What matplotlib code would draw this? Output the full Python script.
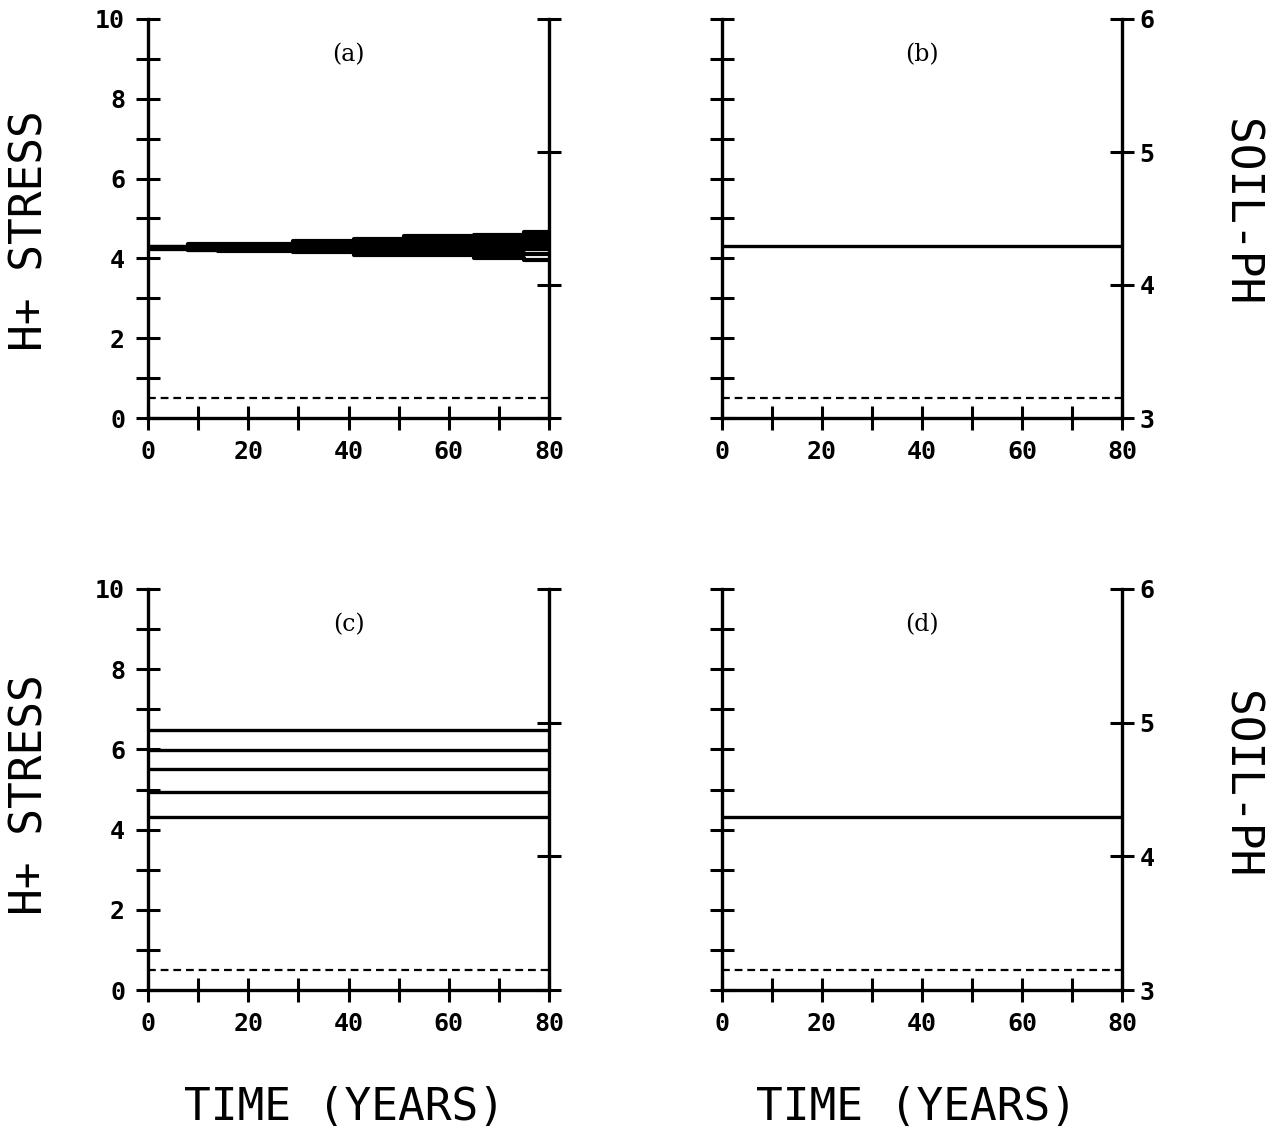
import matplotlib
matplotlib.use("Agg")
import matplotlib.pyplot as plt

# ---- data -------------------------------------------------------------
# time axis (years) and panel (a) breakpoints where the trajectories step
years = [0, 80]
years_a = [0, 8, 14, 29, 41, 51, 65, 75, 80]

# panel (a): bundle of H+ stress trajectories widening with time
stress_a1 = [4.29, 4.35, 4.37, 4.44, 4.48, 4.56, 4.58, 4.65, 4.65]
stress_a2 = [4.28, 4.33, 4.34, 4.40, 4.43, 4.50, 4.51, 4.57, 4.57]
stress_a3 = [4.28, 4.31, 4.32, 4.36, 4.38, 4.44, 4.44, 4.49, 4.49]
stress_a4 = [4.27, 4.29, 4.30, 4.32, 4.33, 4.38, 4.37, 4.42, 4.42]
stress_a5 = [4.26, 4.27, 4.27, 4.28, 4.27, 4.31, 4.29, 4.32, 4.32]
stress_a6 = [4.25, 4.25, 4.24, 4.24, 4.21, 4.23, 4.21, 4.23, 4.23]
stress_a7 = [4.24, 4.22, 4.22, 4.20, 4.15, 4.16, 4.12, 4.10, 4.10]
stress_a8 = [4.23, 4.20, 4.19, 4.16, 4.09, 4.09, 4.01, 3.95, 3.95]
stress_a = [stress_a1, stress_a2, stress_a3, stress_a4,
            stress_a5, stress_a6, stress_a7, stress_a8]

# panel (b) and (d): single constant trajectory
stress_b = [4.31, 4.31]
stress_d = [4.31, 4.31]

# panel (c): constant stress levels
stress_c_levels = [6.48, 5.99, 5.51, 4.95, 4.32]

# threshold (dashed) in every panel
threshold = [0.5, 0.5]

# axis ranges and ticks
stress_ticks = list(range(0, 11))
stress_labels = ["0", "", "2", "", "4", "", "6", "", "8", "", "10"]
time_ticks = list(range(0, 81, 10))
time_labels = ["0", "", "20", "", "40", "", "60", "", "80"]
ph_ticks = [3, 4, 5, 6]
ph_labels = ["3", "4", "5", "6"]
panel_tags = ["(a)", "(b)", "(c)", "(d)"]

# ---- figure -----------------------------------------------------------
W, H = 1276, 1132
fig = plt.figure(figsize=(W / 100, H / 100), dpi=100)


def box(x0, x1, ytop, ybot):
    return [x0 / W, 1 - ybot / H, (x1 - x0) / W, (ybot - ytop) / H]


LW = 2.4
TICK = dict(direction="inout", length=17, width=2.2, color="black")
TICKFONT = dict(family="DejaVu Sans Mono", weight="bold", size=18)
BIGFONT = dict(family="DejaVu Sans Mono", size=32)


def make_panel(rect, left_labels, right_labels, tag):
    ax = fig.add_axes(rect)
    ax.set_xlim(0, 80)
    ax.set_ylim(0, 10)
    for s in ("top", "right"):
        ax.spines[s].set_visible(False)
    for s in ("left", "bottom"):
        ax.spines[s].set_linewidth(LW)
    ax.set_xticks(time_ticks)
    ax.set_xticklabels(time_labels, **TICKFONT)
    ax.set_yticks(stress_ticks)
    if left_labels:
        ax.set_yticklabels(stress_labels, **TICKFONT)
    else:
        ax.set_yticklabels([])
    ax.tick_params(axis="x", pad=7, **TICK)
    ax.tick_params(axis="y", pad=8, **TICK)

    ax2 = ax.twinx()
    ax2.set_ylim(3, 6)
    for s in ("top", "left", "bottom"):
        ax2.spines[s].set_visible(False)
    ax2.spines["right"].set_linewidth(LW)
    ax2.set_yticks(ph_ticks)
    if right_labels:
        ax2.set_yticklabels(ph_labels, **TICKFONT)
    else:
        ax2.set_yticklabels([])
    ax2.tick_params(axis="y", pad=4, **TICK)

    ax.text(40, 9.1, tag, ha="center", va="center",
            family="DejaVu Serif", size=17)
    ax.plot(years, threshold, color="black", lw=1.6,
            linestyle=(0, (3.5, 2.2)), solid_capstyle="butt")
    return ax


ax_a = make_panel(box(148, 549, 19, 418), True, False, panel_tags[0])
ax_b = make_panel(box(722, 1122, 19, 418), False, True, panel_tags[1])
ax_c = make_panel(box(148, 549, 589, 990), True, False, panel_tags[2])
ax_d = make_panel(box(722, 1122, 589, 990), False, True, panel_tags[3])

for series in stress_a:
    ax_a.plot(years_a, series, drawstyle="steps-post", color="black",
              lw=3.0, solid_capstyle="butt")

ax_b.plot(years, stress_b, color="black", lw=LW, solid_capstyle="butt")
ax_d.plot(years, stress_d, color="black", lw=LW, solid_capstyle="butt")
for level in stress_c_levels:
    ax_c.plot(years, [level, level], color="black", lw=LW,
              solid_capstyle="butt")

# axis titles
for yc in (231, 795):
    fig.text(30 / W, 1 - yc / H, "H+ STRESS", rotation=90,
             ha="center", va="center", **BIGFONT)
for yc in (213, 785):
    fig.text(1240 / W, 1 - yc / H, "SOIL-PH", rotation=270,
             ha="center", va="center", **BIGFONT)
for xc in (345, 916):
    fig.text(xc / W, 1 - 1108 / H, "TIME (YEARS)",
             ha="center", va="center", **BIGFONT)

fig.savefig("out.png", dpi=100, facecolor="white")
